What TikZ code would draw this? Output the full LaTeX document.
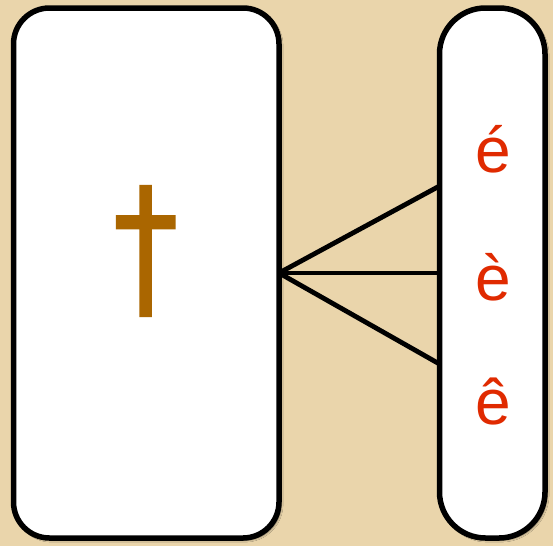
\documentclass[tikz,border=0pt]{standalone}
\usepackage{fontspec}
\setmainfont{Liberation Sans}
\newfontfamily\heros[FakeBold=1.5]{TeX Gyre Heros}
\usetikzlibrary{shadows.blur}
\definecolor{parch}{HTML}{EAD5AB}
\definecolor{dagbrown}{HTML}{AA6600}
\definecolor{accred}{HTML}{E02A00}
\tikzset{
  panel/.style={draw=black, line width=5.5pt, fill=white, blur shadow={shadow xshift=2pt, shadow yshift=-2pt, shadow blur steps=8, shadow blur extra rounding=4pt, shadow opacity=60}},
  link/.style={draw=black, line width=4.8pt},
  letter/.style={text=accred, font=\fontsize{64}{64}\selectfont, anchor=base, inner sep=0pt}
}
\begin{document}
\begin{tikzpicture}[x=1pt,y=-1pt]
  \fill[parch] (0,0) rectangle (553,546);
  \useasboundingbox (0,0) rectangle (553,546);
  \draw[panel, rounded corners=36pt] (13.5,8) rectangle (279,538);
  \draw[panel, rounded corners=46pt] (439.5,8) rectangle (545,538);
  \node[text=dagbrown, font=\heros\fontsize{147}{147}\selectfont, inner sep=0pt, xscale=0.83] (dag) at (146,251) {†};
  \coordinate (hub) at (279,273);
  \coordinate (r1) at (439.5,186);
  \coordinate (r2) at (439.5,273);
  \coordinate (r3) at (439.5,364);
  \draw[link] (hub) -- (r1);
  \draw[link] (hub) -- (r2);
  \draw[link] (hub) -- (r3);
  \node[letter] (e1) at (493,172) {é};
  \node[letter] (e2) at (493,300) {è};
  \node[letter] (e3) at (493,424) {ê};
\end{tikzpicture}
\end{document}
